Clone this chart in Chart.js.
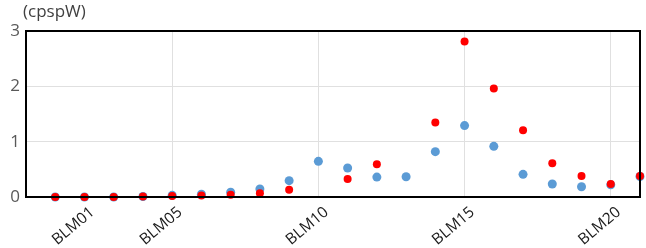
<!DOCTYPE html>
<html>
<head>
<meta charset="utf-8">
<script src="https://cdn.jsdelivr.net/npm/chart.js@4/dist/chart.umd.min.js"></script>
<style>
  html, body { margin: 0; padding: 0; background: #fff; }
  #wrap { width: 646px; height: 248px; }
</style>
</head>
<body>
<div id="wrap"><canvas id="c"></canvas></div>
<script>
// x positions of the sites (1..21)
const positions = [1,2,3,4,5,6,7,8,9,10,11,12,13,14,15,16,17,18,19,20,21];
const blueValues = [0,0,0,0.01,0.03,0.05,0.085,0.145,0.295,0.645,0.525,0.36,0.365,0.82,1.29,0.915,0.41,0.235,0.185,0.22,0.37];
const redValues  = [0,0,0,0.01,0.02,0.025,0.04,0.07,0.13,null,0.325,0.59,null,1.345,2.81,1.96,1.205,0.61,0.38,0.235,0.38];
// tick labels by axis value
const xTickLabels = {2: 'BLM01', 5: 'BLM05', 10: 'BLM10', 15: 'BLM15', 20: 'BLM20'};
const yTicks = [0, 1, 2, 3];

const toPoints = vals => positions.map((x, i) => ({ x, y: vals[i] }));

const unitLabel = {
  id: 'unitLabel',
  afterDraw(chart) {
    const ctx = chart.ctx;
    ctx.save();
    ctx.fillStyle = '#404040';
    ctx.font = '17px "Open Sans", sans-serif';
    ctx.textAlign = 'left';
    ctx.textBaseline = 'top';
    ctx.fillText('(cpspW)', 23, 4);
    ctx.restore();
  }
};

const frame = {
  id: 'frame',
  afterDatasetsDraw(chart) {
    const a = chart.chartArea;
    const ctx = chart.ctx;
    ctx.save();
    ctx.strokeStyle = '#000';
    ctx.lineWidth = 2;
    ctx.strokeRect(a.left, a.top, a.right - a.left, a.bottom - a.top);
    ctx.restore();
  }
};

new Chart(document.getElementById('c'), {
  type: 'scatter',
  data: {
    datasets: [
      {
        label: 'red',
        data: toPoints(redValues),
        backgroundColor: '#ff0000',
        borderColor: '#ff0000',
        borderWidth: 0,
        pointRadius: 4
      },
      {
        label: 'blue',
        data: toPoints(blueValues),
        backgroundColor: '#5b9bd5',
        borderColor: '#5b9bd5',
        borderWidth: 0,
        pointRadius: 4.5
      }
    ]
  },
  options: {
    responsive: true,
    maintainAspectRatio: false,
    animation: false,
    clip: false,
    layout: { padding: { top: 31, right: 6, left: 0, bottom: 0 } },
    plugins: { legend: { display: false }, tooltip: { enabled: false } },
    scales: {
      x: {
        type: 'linear',
        min: 0,
        max: 21,
        border: { display: false },
        grid: {
          drawTicks: false,
          color: c => (c.tick && c.tick.value % 5 === 0 && c.tick.value > 0) ? '#e0e0e0' : 'rgba(0,0,0,0)'
        },
        afterBuildTicks: axis => {
          axis.ticks = [];
          for (let v = 0; v <= 21; v++) axis.ticks.push({ value: v });
        },
        afterFit: axis => {
          axis.height = 51;
          axis.paddingLeft = 0;
          axis.paddingRight = 0;
        },
        ticks: {
          autoSkip: false,
          maxRotation: 40,
          minRotation: 40,
          padding: 6,
          labelOffset: 8,
          color: '#1a1a1a',
          font: { size: 15.5, family: '"Open Sans", sans-serif' },
          callback: v => xTickLabels[v] || ''
        }
      },
      y: {
        min: 0,
        max: 3,
        border: { display: false },
        grid: { drawTicks: false, color: '#e0e0e0' },
        afterBuildTicks: axis => { axis.ticks = yTicks.map(v => ({ value: v })); },
        afterFit: axis => {
          axis.width = 26;
          axis.paddingTop = 0;
          axis.paddingBottom = 0;
        },
        ticks: {
          padding: 6,
          color: '#595959',
          font: { size: 17, family: '"Open Sans", sans-serif' }
        }
      }
    }
  },
  plugins: [unitLabel, frame]
});
</script>
</body>
</html>
